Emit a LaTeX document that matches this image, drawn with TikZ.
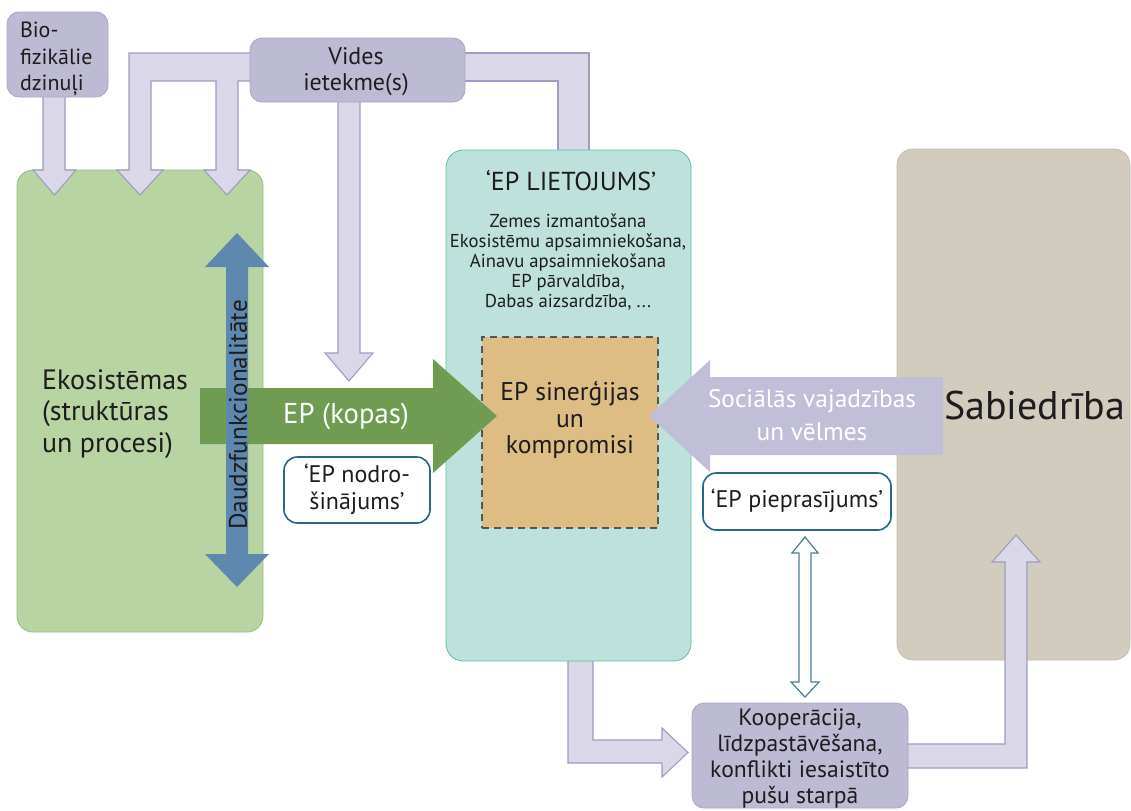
\documentclass[tikz,border=0pt]{standalone}
\usepackage{fontspec}
\setmainfont{PT Sans}
\newcommand\setfs[2]{\fontsize{#1}{#2}\selectfont}
\definecolor{ecofill}{RGB}{184,212,162}
\definecolor{ecoline}{RGB}{150,190,125}
\definecolor{usefill}{RGB}{190,225,220}
\definecolor{useline}{RGB}{95,190,172}
\definecolor{socfill}{RGB}{210,204,190}
\definecolor{socline}{RGB}{196,189,174}
\definecolor{synfill}{RGB}{222,189,133}
\definecolor{lavbox}{RGB}{189,187,211}
\definecolor{lavboxline}{RGB}{168,166,197}
\definecolor{lavarrow}{RGB}{217,215,232}
\definecolor{lavarrowline}{RGB}{158,156,192}
\definecolor{needarrow}{RGB}{193,191,215}
\definecolor{eparrow}{RGB}{111,156,82}
\definecolor{multiarrow}{RGB}{94,136,173}
\definecolor{tagline}{RGB}{35,105,135}
\definecolor{ink}{RGB}{30,28,30}
\begin{document}
\begin{tikzpicture}[x=0.75pt,y=-0.75pt,
  every node/.style={inner sep=0pt, outer sep=0pt, text=ink},
  bigbox/.style={rounded corners=12pt, line width=0.6pt},
  smallbox/.style={draw=lavboxline, fill=lavbox, rounded corners=9pt, line width=0.6pt},
  tagbox/.style={draw=tagline, fill=white, rounded corners=10pt, line width=1.2pt},
  flow/.style={fill=lavarrow, draw=lavarrowline, line width=0.8pt, line join=miter},
]
\useasboundingbox (0,0) rectangle (1131,810);
\fill[white] (0,0) rectangle (1131,810);

% flows that end at the edges of the 'EP LIETOJUMS' panel
\draw[flow] (455,53) -- (589,53) -- (589,152) -- (558,152) -- (558,81) -- (455,81) -- cycle;
\draw[flow] (568,655) -- (568,763) -- (662,763) -- (662,777) -- (688,752.5) -- (662,728) -- (662,740) -- (593,740) -- (593,655) -- cycle;

% main panels
\node[bigbox, draw=ecoline, fill=ecofill, minimum width=184.5pt, minimum height=346.5pt] (eco) at (140,401) {};
\node[bigbox, draw=useline, fill=usefill, minimum width=183.75pt, minimum height=383.25pt, rounded corners=13pt] (use) at (568.5,405.5) {};
\node[bigbox, draw=socline, fill=socfill, minimum width=174.75pt, minimum height=383.25pt] (soc) at (1013.5,404.5) {};
\node[draw=ink!75, fill=synfill, dashed, dash pattern=on 5pt off 4pt, line width=1pt, minimum width=132pt, minimum height=143.25pt] (syn) at (570,432.5) {};

% texts inside the panels
\node[anchor=west, align=left, font=\setfs{21}{23.5}] (ecotxt) at (42,414) {Ekosistēmas\\(struktūras\\un procesi)};
\node[font=\setfs{19.5}{22}] (usetitle) at (571,181) {‘EP LIETOJUMS’};
\node[align=center, font=\setfs{14}{15}] (uselist) at (568,262) {Zemes izmantošana\\Ekosistēmu apsaimniekošana,\\Ainavu apsaimniekošana\\EP pārvaldība,\\Dabas aizsardzība, ...};
\node[align=center, font=\setfs{19.2}{20}] (syntxt) at (570,420) {EP sinerģijas\\un\\kompromisi};
\node[anchor=west, font=\setfs{30}{34}] (soctxt) at (944,405) {Sabiedrība};

% drivers flowing into the ecosystems
\draw[flow] (43,90) -- (43,170) -- (33,170) -- (54.5,195) -- (76,170) -- (65,170) -- (65,90) -- cycle;
\draw[flow] (260,53) -- (129,53) -- (129,170) -- (117,170) -- (140,195) -- (163,170) -- (151,170) -- (151,81)
  -- (216,81) -- (216,170) -- (204,170) -- (227,195) -- (250,170) -- (238,170) -- (238,81) -- (260,81) -- cycle;
\draw[flow] (338,95) -- (338,353) -- (325,353) -- (349,381) -- (373,353) -- (360,353) -- (360,95) -- cycle;

% ecosystem services supply
\fill[eparrow] (200,388) -- (433,388) -- (433,359) -- (497,416) -- (433,473) -- (433,444) -- (200,444) -- cycle;
\node[text=white, font=\setfs{21.5}{24}] (eptxt) at (346,416) {EP (kopas)};

% multifunctionality
\fill[multiarrow] (237,233) -- (269,267) -- (248,267) -- (248,554) -- (269,554) -- (237,587) -- (205,554)
  -- (226,554) -- (226,267) -- (205,267) -- cycle;
\node[rotate=90, font=\setfs{19}{22}] (multitxt) at (238,415) {Daudzfunkcionalitāte};

% social needs and wishes
\fill[needarrow] (943,377) -- (710,377) -- (710,360) -- (649,416) -- (710,472) -- (710,455) -- (943,455) -- cycle;
\node[align=center, text=white, font=\setfs{19}{25}] (needtxt) at (812,415) {Sociālās vajadzības\\un vēlmes};

% feedback into society
\draw[flow] (900,744) -- (1005,744) -- (1005,562) -- (992,562) -- (1016,535) -- (1040,562) -- (1027,562) -- (1027,768) -- (900,768) -- cycle;

% demand <-> interactions
\draw[fill=white, draw=tagline!85, line width=0.9pt, line join=miter] (805,537) -- (818,553) -- (811,553) -- (811,682) -- (819,682)
  -- (805,697) -- (791,682) -- (799,682) -- (799,553) -- (792,553) -- cycle;

% small boxes
\node[smallbox, minimum width=75.75pt, minimum height=63.75pt] (bio) at (57.5,54.5) {};
\node[anchor=west, align=left, font=\setfs{16.5}{20}] (biotxt) at (20,59) {Bio-\\fizikālie\\dzinuļi};
\node[smallbox, minimum width=161.25pt, minimum height=48pt] (vides) at (357.5,70) {};
\node[align=center, font=\setfs{18}{19.5}] (videstxt) at (356,72) {Vides\\ietekme(s)};
\node[smallbox, minimum width=162pt, minimum height=78.75pt] (coop) at (800,755.5) {};
\node[align=center, font=\setfs{17.7}{19.5}] (cooptxt) at (800,758) {Kooperācija,\\līdzpastāvēšana,\\konflikti iesaistīto\\pušu starpā};

% supply and demand tags
\node[tagbox, minimum width=109.5pt, minimum height=49.5pt] (supply) at (357,490) {};
\node[align=center, font=\setfs{18}{20}] (supplytxt) at (357,489) {‘EP nodro-\\šinājums’};
\node[tagbox, minimum width=141pt, minimum height=42.75pt] (demand) at (797,501.5) {};
\node[font=\setfs{18}{20}] (demandtxt) at (797,501) {‘EP pieprasījums’};
\end{tikzpicture}
\end{document}
